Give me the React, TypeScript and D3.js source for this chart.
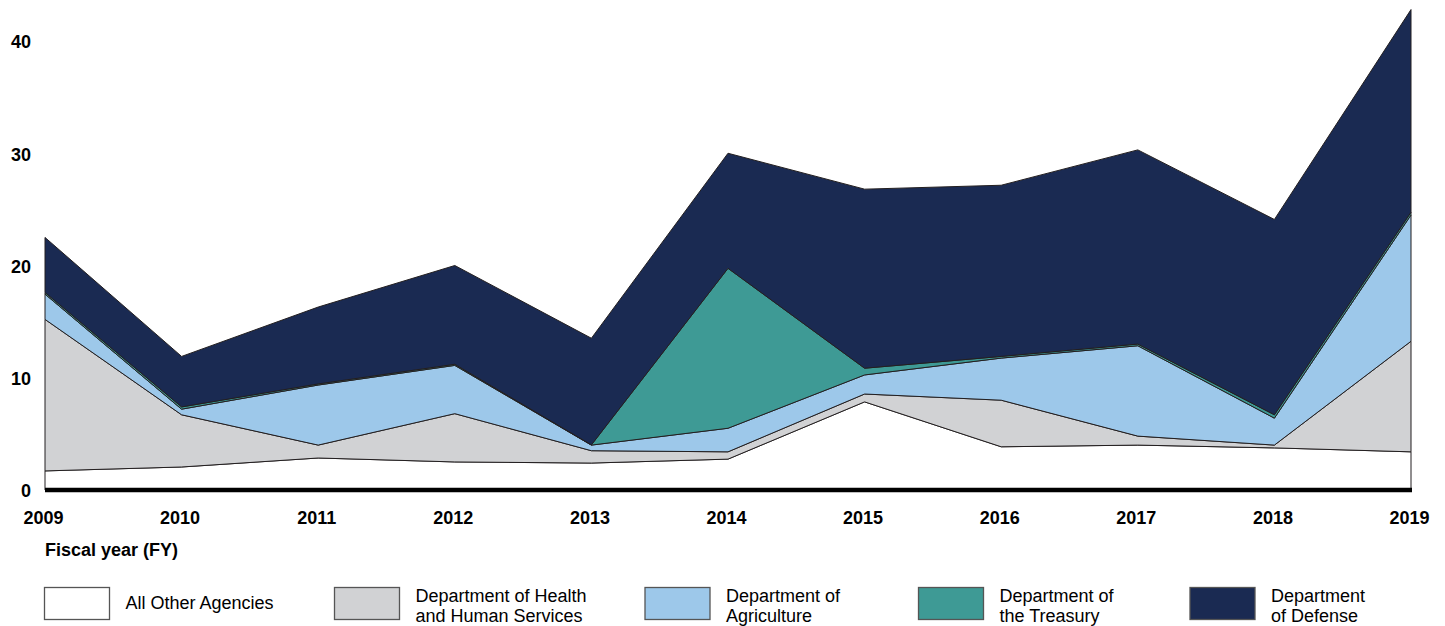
import React, { useEffect, useRef } from "react";
import * as d3 from "d3";

const years = [2009, 2010, 2011, 2012, 2013, 2014, 2015, 2016, 2017, 2018, 2019];
const otherAgencies = [1.7, 2.05, 2.85, 2.5, 2.4, 2.75, 7.85, 3.85, 4.0, 3.75, 3.4];
const healthHumanServices = [13.5, 4.65, 1.15, 4.3, 1.1, 0.65, 0.7, 4.15, 0.8, 0.25, 9.85];
const agriculture = [2.25, 0.5, 5.35, 4.3, 0.5, 2.1, 1.7, 3.75, 8.05, 2.4, 11.25];
const treasury = [0.15, 0.2, 0.1, 0.1, 0.02, 14.25, 0.6, 0.15, 0.15, 0.3, 0.25];
const defense = [4.9, 4.5, 6.85, 8.8, 9.5, 10.25, 15.95, 15.25, 17.3, 17.4, 18.05];
const yTicks = [0, 10, 20, 30, 40];

const seriesKeys = ["other", "hhs", "ag", "treasury", "defense"];
const seriesLabels = [
  ["All Other Agencies"],
  ["Department of Health", "and Human Services"],
  ["Department of", "Agriculture"],
  ["Department of", "the Treasury"],
  ["Department", "of Defense"],
];
const colors = ["#ffffff", "#d1d2d4", "#9dc8ea", "#3e9a95", "#1a2a52"];

export default function App() {
  const ref = useRef<SVGSVGElement>(null);

  useEffect(() => {
    const svg = d3.select(ref.current);
    svg.selectAll("*").remove();
    const font = "'Liberation Sans', Arial, sans-serif";

    const rows = years.map((yr, i) => ({
      year: yr,
      other: otherAgencies[i],
      hhs: healthHumanServices[i],
      ag: agriculture[i],
      treasury: treasury[i],
      defense: defense[i],
    }));

    const x = d3.scaleLinear().domain([2009, 2019]).range([45, 1411]);
    const y = d3.scaleLinear().domain([0, 40]).range([490, 41]);

    const stacked = d3.stack<any>().keys(seriesKeys)(rows);

    const area = d3.area<any>()
      .x((d) => x(d.data.year))
      .y0((d) => y(d[0]))
      .y1((d) => y(d[1]));

    svg.append("g")
      .selectAll("path")
      .data(stacked)
      .enter()
      .append("path")
      .attr("d", area)
      .attr("fill", (d, i) => colors[i])
      .attr("stroke", "#231f20")
      .attr("stroke-width", 1)
      .attr("stroke-linejoin", "miter");

    // thick baseline
    svg.append("line")
      .attr("x1", x(2009))
      .attr("x2", x(2019) + 1)
      .attr("y1", y(0))
      .attr("y2", y(0))
      .attr("stroke", "#000")
      .attr("stroke-width", 4.5);

    const yAxis = d3.axisLeft(y).tickValues(yTicks).tickSize(0).tickPadding(0);
    const gy = svg.append("g").attr("transform", "translate(31,1)").call(yAxis);
    gy.select(".domain").remove();
    gy.selectAll("text")
      .attr("font-family", font)
      .attr("font-weight", "bold")
      .attr("font-size", 18)
      .attr("fill", "#000");

    const xAxis = d3.axisBottom(x).tickValues(years).tickSize(0).tickPadding(0).tickFormat(d3.format("d"));
    const gx = svg.append("g").attr("transform", "translate(-2,511)").call(xAxis);
    gx.select(".domain").remove();
    gx.selectAll("text")
      .attr("font-family", font)
      .attr("font-weight", "bold")
      .attr("font-size", 18)
      .attr("fill", "#000");

    svg.append("text")
      .attr("x", 45)
      .attr("y", 556)
      .attr("font-family", font)
      .attr("font-weight", "bold")
      .attr("font-size", 18)
      .text("Fiscal year (FY)");

    // legend
    const legendX = [44.5, 334.5, 645, 918.5, 1190];
    const legend = svg.append("g")
      .selectAll("g")
      .data(seriesKeys)
      .enter()
      .append("g")
      .attr("transform", (d, i) => `translate(${legendX[i]},587.5)`);

    legend.append("rect")
      .attr("width", 65)
      .attr("height", 32)
      .attr("fill", (d, i) => colors[i])
      .attr("stroke", "#555")
      .attr("stroke-width", 1.3);

    legend.each(function (d, i) {
      const lines = seriesLabels[i];
      const t = d3.select(this).append("text")
        .attr("font-family", font)
        .attr("font-size", 18)
        .attr("fill", "#000");
      lines.forEach((ln, j) => {
        t.append("tspan")
          .attr("x", 81)
          .attr("y", lines.length === 1 ? 21 : 14.5 + j * 19.5)
          .text(ln);
      });
    });
  }, []);

  return (
    <div style={{ position: "absolute", left: 0, top: 0 }}>
      <svg ref={ref} width={1445} height={626} />
    </div>
  );
}
